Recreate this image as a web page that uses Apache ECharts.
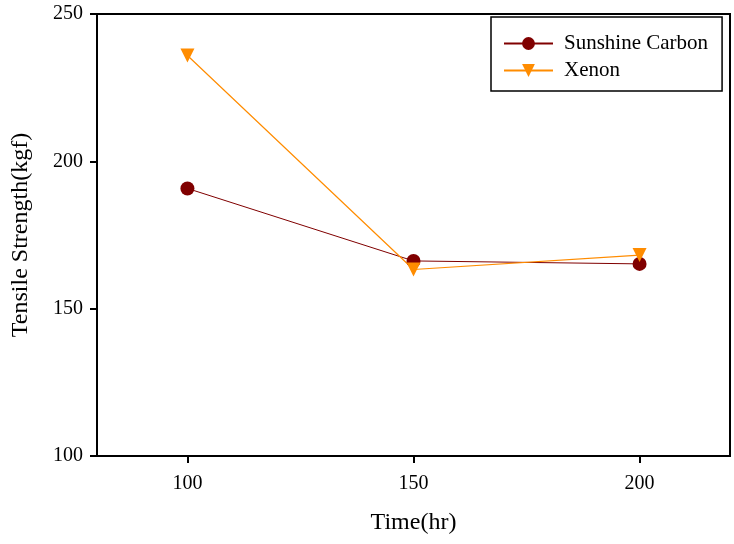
<!DOCTYPE html>
<html>
<head>
<meta charset="utf-8">
<script src="https://cdn.jsdelivr.net/npm/echarts@6/dist/echarts.min.js"></script>
<style>html,body{margin:0;padding:0;background:#fff}#c{width:734px;height:544px}</style>
</head>
<body>
<div id="c"></div>
<script>
var times = [100, 150, 200];
var sunshineCarbon = [190.8, 166.2, 165.2];
var xenon = [235.9, 163.3, 168.2];
var xTicks = [100, 150, 200];
var yTicks = [100, 150, 200, 250];

var font = '"Liberation Serif", "Times New Roman", serif';
var chart = echarts.init(document.getElementById('c'), null, {renderer: 'canvas'});
function pairs(xs, ys) { return xs.map(function (x, i) { return [x, ys[i]]; }); }
chart.setOption({
  animation: false,
  backgroundColor: '#fff',
  grid: {left: 97, right: 4, top: 14, bottom: 88, show: true, borderColor: '#000', borderWidth: 2, backgroundColor: 'transparent'},
  legend: {
    orient: 'vertical', left: 491, top: 17,
    padding: [16, 14, 10, 12], itemGap: 6,
    borderColor: '#000', borderWidth: 1.5,
    itemWidth: 49, itemHeight: 16,
    textStyle: {fontFamily: font, fontSize: 21, color: '#000', padding: [0, 0, 0, 6]},
    data: ['Sunshine Carbon', 'Xenon']
  },
  xAxis: {
    type: 'value', min: 80, max: 220,
    name: 'Time(hr)', nameLocation: 'middle', nameGap: 55,
    nameTextStyle: {fontFamily: font, fontSize: 24, color: '#000'},
    axisLine: {show: true, lineStyle: {color: '#000', width: 2}},
    axisTick: {show: true, length: 7, lineStyle: {color: '#000', width: 2}, customValues: xTicks},
    axisLabel: {fontFamily: font, fontSize: 20, color: '#000', margin: 18, customValues: xTicks},
    splitLine: {show: false}
  },
  yAxis: {
    type: 'value', min: 100, max: 250, interval: 50,
    name: 'Tensile Strength(kgf)', nameLocation: 'middle', nameGap: 64,
    nameTextStyle: {fontFamily: font, fontSize: 24, color: '#000'},
    axisLine: {show: true, lineStyle: {color: '#000', width: 2}},
    axisTick: {show: true, length: 7, lineStyle: {color: '#000', width: 2}, customValues: yTicks},
    axisLabel: {fontFamily: font, fontSize: 20, color: '#000', margin: 14, customValues: yTicks},
    splitLine: {show: false}
  },
  series: [
    {
      name: 'Sunshine Carbon', type: 'line', data: pairs(times, sunshineCarbon),
      symbol: 'circle', symbolSize: 14,
      lineStyle: {color: '#800000', width: 1},
      itemStyle: {color: '#800000'}
    },
    {
      name: 'Xenon', type: 'line', data: pairs(times, xenon),
      symbol: 'triangle', symbolSize: 14, symbolRotate: 180,
      lineStyle: {color: '#FF8C00', width: 1.2},
      itemStyle: {color: '#FF8C00'}
    }
  ]
});
</script>
</body>
</html>
